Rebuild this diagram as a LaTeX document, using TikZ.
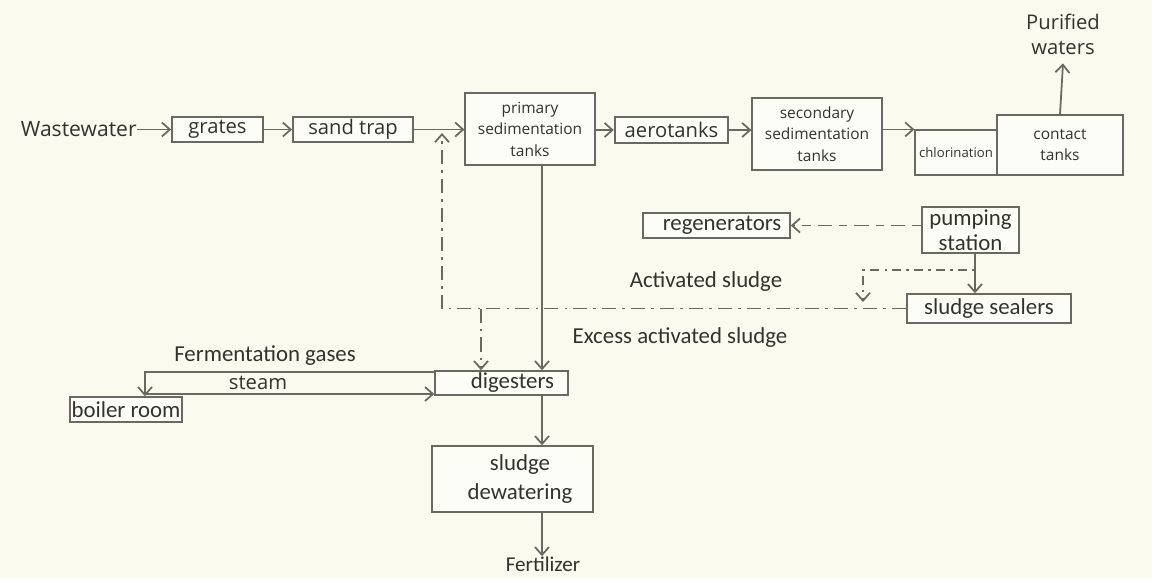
\documentclass[tikz,border=0pt]{standalone}
\usepackage{fontspec}
\setmainfont{Open Sans}
\newfontfamily\calfont{Carlito}
\usetikzlibrary{arrows.meta, positioning}
\definecolor{paper}{RGB}{250,250,238}
\definecolor{ink}{RGB}{50,50,46}
\definecolor{wire}{RGB}{105,105,98}
\definecolor{boxfill}{RGB}{253,253,248}

\begin{document}
\begin{tikzpicture}[
    x=0.02cm, y=-0.02cm,
    stage/.style={draw=wire, line width=1.1pt, fill=boxfill, inner sep=1pt, align=center, text=ink, font=\fontsize{11.5}{14}\selectfont},
    tank/.style={stage, line width=0.7pt, font=\fontsize{8.8}{12.2}\selectfont},
    unit/.style={stage, line width=0.9pt, font=\calfont\fontsize{13}{14}\selectfont},
    note/.style={text=ink, inner sep=0pt, align=center, font=\calfont\fontsize{13}{15}\selectfont},
    flow/.style={draw=wire, line width=1pt, -{Straight Barb[length=4.5pt,width=8pt]}},
    sludgeline/.style={flow, dash pattern=on 8pt off 3.5pt on 1.5pt off 3.5pt},
    pumpline/.style={flow, dash pattern=on 5pt off 4pt on 8pt off 4pt},
    dotline/.style={flow, dash pattern=on 1.5pt off 3pt on 5pt off 3pt}
]
\useasboundingbox[fill=paper] (0,0) rectangle (1152,578);

% Nodes Row 1
\node (waste) [note, font=\fontsize{12}{14}\selectfont, anchor=east] at (137,129.5) {Wastewater};
\node (grates) [stage, minimum width=1.82cm, minimum height=0.5cm] at (217.5,129.5) {grates};
\node (sandtrap) [stage, minimum width=2.4cm, minimum height=0.5cm] at (353,129.5) {sand trap};
\node (primary) [tank, minimum width=2.6cm, minimum height=1.44cm] at (530,129) {primary\\sedimentation\\tanks};
\node (aero) [stage, line width=1.4pt, minimum width=2.26cm, minimum height=0.52cm] at (671.5,130) {aerotanks};
\node (secondary) [tank, minimum width=2.6cm, minimum height=1.44cm] at (817,134) {secondary\\sedimentation\\tanks};
\node (chlor) [tank, font=\fontsize{7.5}{9}\selectfont, inner sep=0pt, minimum width=1.64cm, minimum height=0.9cm] at (956,152.5) {chlorination};
\node (contact) [tank, minimum width=2.52cm, minimum height=1.2cm] at (1060,145) {contact\\tanks};
\node (purified) [note, font=\fontsize{11.5}{14.2}\selectfont] at (1063,34) {Purified\\waters};

% Nodes Row 2
\node (regen) [unit, minimum width=2.94cm, minimum height=0.5cm] at (716.5,225.5) {\hspace*{0.22cm}regenerators};
\node (pump) [unit, font=\calfont\fontsize{13}{14.2}\selectfont, minimum width=1.94cm, minimum height=0.92cm] at (970.5,230) {pumping\\station};
\node (sealers) [unit, minimum width=3.28cm, minimum height=0.58cm] at (989,308.5) {sludge sealers};
\node (act) [note] at (706,282) {Activated sludge};
\node (excess) [note] at (680,338) {Excess activated sludge};

% Nodes Row 3
\node (digest) [unit, minimum width=2.66cm, minimum height=0.48cm] at (501.5,383) {\hspace*{0.44cm}digesters};
\node (boiler) [unit, inner sep=0.5pt, minimum width=2.24cm, minimum height=0.5cm] at (126,409.5) {boiler room};
\node (gases) [note] at (265,356) {Fermentation gases};
\node (steam) [note, font=\fontsize{11.5}{14}\selectfont] at (258,383) {steam};
\node (dewater) [unit, font=\calfont\fontsize{13}{16.5}\selectfont, minimum width=3.22cm, minimum height=1.32cm] at (512.5,479) {\hspace*{0.3cm}sludge\\\hspace*{0.3cm}dewatering};
\node (fert) [note, font=\calfont\fontsize{12}{14}\selectfont] at (543,564) {Fertilizer};

% Helper points
\coordinate (trunk) at (542,300);
\coordinate (join) at (442,133);
\coordinate (branch) at (481,308.5);
\coordinate (riser) at (975,230);
\coordinate (tap) at (975,270);
\coordinate (drop) at (863,302);
\coordinate (steamstart) at (145,394);

% Paths
\draw [flow] (waste) -- (grates);
\draw [flow] (grates) -- (sandtrap);
\draw [flow] (sandtrap.east) -- (sandtrap.east -| primary.west);
\draw [flow] (primary.east |- aero.west) -- (aero.west);
\draw [flow] (aero.east) -- (aero.east -| secondary.west);
\draw [flow] (secondary.east |- chlor.north west) -- (chlor.north west);
\draw [flow] (contact.north) -- ([yshift=-5pt]purified.south);
\draw [flow] (trunk |- primary.south) -- (trunk |- digest.north);
\draw [flow] (trunk |- digest.south) -- (trunk |- dewater.north);
\draw [flow] (trunk |- dewater.south) -- (trunk |- fert.north);
\draw [pumpline] (pump.west |- regen.east) -- (regen.east);
\draw [flow] (riser |- pump.south) -- (riser |- sealers.north);
\draw [dotline] (tap) -| (drop);
\draw [sludgeline] (sealers.west) -| (join);
\draw [sludgeline] (branch) -- (branch |- digest.north);
\draw [flow] ([yshift=-0.04cm]digest.north west) -| ([xshift=0.38cm]boiler.north);
\draw [flow] (steamstart) -- (steamstart -| digest.west);

\end{tikzpicture}
\end{document}
